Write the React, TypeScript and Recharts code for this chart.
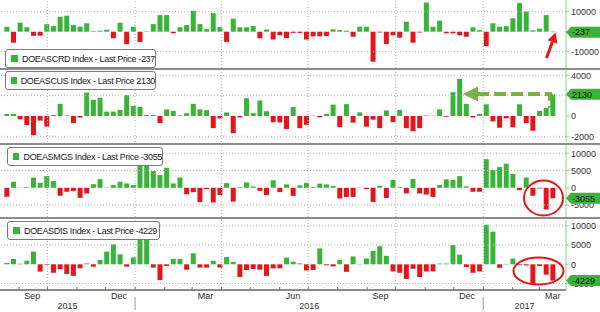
import React from "react";
import { BarChart, Bar, XAxis, YAxis, Cell, ReferenceLine } from "recharts";

const GREEN = "#38b538";
const RED = "#e3161c";
const GRID = "#b4b4b4";
const AXIS_GREEN = "#8fd18f";
const SEP = "#8c8c8c";
const FONT = "'Liberation Sans', Arial, sans-serif";

// weekly DOE inventory changes (thousand barrels), one bar per week
const crude = [
  2500, -5500, 4500, 2200, -2000, -2000, 3800, 2800, 7500, 8000,
  3300, 2500, 4200, 300, 500, 1000, -3300, 4500, -6200, 2500,
  -5200, 200, 3800, 8300, 8300, -800, 2200, 3300, 10500, 3800,
  1300, 9300, 2300, -5100, 6500, 2200, 2200, 2800, -3300, 1100,
  -3900, -1800, -3200, -600, -600, -3900, -2300, -2300, -2200, 1200,
  800, 500, -2500, 2500, 2500, -15000, -400, -6200, -1800, -3000,
  5000, -5500, -400, 14600, 2500, 5500, -800, -800, -1800, -2500,
  2200, 800, -7200, 4200, 2500, 2800, 6700, 14300, 10100, 700,
  1500, 8300, -237,
];
const cushing = [
  200, 200, -330, -900, -1900, -450, -1050, 100, 1200, 50,
  -700, -150, 2300, 1600, 1800, 430, 430, 600, 2050, 1000,
  900, 100, 100, -700, 650, 500, 50, 280, 1200, 650,
  570, -1200, -240, 350, -1700, -140, 1750, 280, 1530, 470,
  -610, -630, -1280, 880, -1200, -870, 30, -130, 200, 1120,
  -1100, 1170, -650, 360, -1050, -360, -1200, 550, -600, 600,
  -1200, -1500, -1200, 50, 30, 650, -80, 2350, 3650, 1200,
  -150, 200, 1150, -530, -1150, -230, -1100, 1150, -700, -1450,
  500, 800, 2130,
];
const gasoline = [
  -2600, 1750, 100, 200, 3000, 1450, 3400, 1950, -2300, -1150,
  -900, -2900, -1650, 1050, 2500, 100, 800, 1750, 1250, 800,
  8000, 7600, 4850, 3700, 5800, 1250, 3000, -1850, -1250, -4150,
  -400, -4250, -2100, 1350, -4000, 200, 1550, 400, -880, -2100,
  2180, -1250, 980, -2350, 700, 1450, 200, 1200, 980, 550,
  -3100, -2650, -2650, 100, -400, -4100, 600, -2950, 2250, 200,
  -1650, 2550, -1650, -1950, -2650, 800, 2450, 2250, 3400, 400,
  -1150, -1150, 8300, 5200, 6000, 7000, 4000, -700, 3000, -2300,
  -200, -6300, -3055,
];
const distillates = [
  350, 1400, 150, 950, 3300, -1900, -150, -2200, -1300, -2500,
  -3000, -1050, 250, -600, 1150, 3300, 5200, 2600, -600, 1800,
  9000, 8000, -850, -4100, -450, 1400, 1400, -1400, 2880, -860,
  -860, 900, -860, 1900, 650, -3300, -1480, -1200, -1400, -3000,
  -1050, -1050, 1750, 700, 250, -1600, -1450, 4130, -250, -550,
  1150, -1950, 2050, 100, 1530, 3480, 4700, 2200, -1850, -2200,
  -3800, -1150, -3300, -1850, -1850, 200, 200, 5000, 2500, -700,
  -2200, -1850, 10300, 8500, -900, 100, 1500, -200, -300, -5100,
  -450, -2700, -4229,
];

const names = ["DOEASCRD", "DOEASCUS", "DOEASMGS", "DOEASDIS"];
const lastPrices = ["-237", "2130", "-3055", "-4229"];

// x axis in days from 1 Jan 2016
const dayOf = (y: number, m: number, d: number) =>
  Math.round((Date.UTC(y, m - 1, d) - Date.UTC(2016, 0, 1)) / 86400000);
const FIRST_WEEK = dayOf(2015, 8, 19);
const weeks = crude.map((_, i) => FIRST_WEEK + i * 7);
const X_DOMAIN = [dayOf(2015, 8, 12), dayOf(2017, 3, 29)];

const monthLabels = ["Sep", "Dec", "Mar", "Jun", "Sep", "Dec", "Mar"];
const monthLabelDays = [
  dayOf(2015, 9, 15), dayOf(2015, 12, 15), dayOf(2016, 3, 15), dayOf(2016, 6, 15),
  dayOf(2016, 9, 15), dayOf(2016, 12, 15), dayOf(2017, 3, 15),
];
const monthStarts = [
  [2015, 9], [2015, 10], [2015, 11], [2015, 12], [2016, 1], [2016, 2], [2016, 3],
  [2016, 4], [2016, 5], [2016, 6], [2016, 7], [2016, 8], [2016, 9], [2016, 10],
  [2016, 11], [2016, 12], [2017, 1], [2017, 2], [2017, 3],
].map(([y, m]) => dayOf(y, m, 1));
const quarterDays = [dayOf(2015, 10, 1), dayOf(2016, 1, 1), dayOf(2016, 4, 1), dayOf(2016, 7, 1), dayOf(2016, 10, 1), dayOf(2017, 1, 1)];
const yearLabels = ["2015", "2016", "2017"];
const yearBreaks = [dayOf(2016, 1, 1), dayOf(2017, 1, 1)];
const yearMids = [
  (X_DOMAIN[0] + yearBreaks[0]) / 2,
  (yearBreaks[0] + yearBreaks[1]) / 2,
  (yearBreaks[1] + X_DOMAIN[1]) / 2,
];

const panels = [
  { values: crude, domain: [-18150, 15850], ticks: [-10000, 0, 10000], grid: [-10000, 10000], top: 0, plotHeight: 68, legend: { left: 5, top: 49, width: 144 } },
  { values: cushing, domain: [-2560, 4530], ticks: [-2000, 0, 2000, 4000], grid: [-2000, 2000, 4000], top: 70, plotHeight: 72, legend: { left: 5, top: 71, width: 144 } },
  { values: gasoline, domain: [-8470, 12410], ticks: [-5000, 0, 5000, 10000], grid: [-5000, 5000, 10000], top: 145, plotHeight: 72, legend: { left: 7, top: 147, width: 149 } },
  { values: distillates, domain: [-6680, 11520], ticks: [-5000, 0, 5000, 10000], grid: [-5000, 5000, 10000], top: 220, plotHeight: 70, legend: { left: 7, top: 221, width: 146 } },
];

function MonthTick(props: any) {
  const { x, y, payload } = props;
  const k = monthLabelDays.indexOf(payload.value);
  if (k >= 0) {
    return (
      <text x={x} y={y + 9} textAnchor="middle" fontSize={9} fill="#333" fontFamily={FONT}>
        {monthLabels[k]}
      </text>
    );
  }
  return <line x1={x} x2={x} y1={y - 3} y2={y + 1} stroke="#777" />;
}

function YearTick(props: any) {
  const { x, y, payload } = props;
  const k = yearMids.indexOf(payload.value);
  if (k >= 0) {
    return (
      <text x={x} y={y + 8.5} textAnchor="middle" fontSize={9} fill="#333" fontFamily={FONT}>
        {yearLabels[k]}
      </text>
    );
  }
  return <line x1={x} x2={x} y1={y - 3} y2={y + 10} stroke="#999" />;
}

// green "last price" tag on the right axis, drawn above the tick labels
function PriceTag({ x0, y, text }: { x0: number; y: number; text: string }) {
  return (
    <g>
      <polygon
        points={`${x0},${y} ${x0 + 5},${y - 5.5} 600,${y - 5.5} 600,${y + 5.5} ${x0 + 5},${y + 5.5}`}
        fill={GREEN}
      />
      <text x={x0 + 6} y={y + 3.2} fontSize={9} fill="#111" fontFamily={FONT}>
        {text}
      </text>
    </g>
  );
}

function Panel({ values, domain, ticks, grid, top, plotHeight, axis }: any) {
  const rows = values.map((v: number, i: number) => ({ day: weeks[i], v }));
  const h = plotHeight + (axis ? 22 : 0);
  return (
    <div style={{ position: "absolute", left: 0, top }}>
      <BarChart width={600} height={h} data={rows} margin={{ top: 0, right: 0, bottom: 0, left: 0 }}>
        <XAxis
          type="number"
          dataKey="day"
          domain={X_DOMAIN}
          allowDataOverflow
          hide={!axis}
          ticks={[...monthStarts, ...monthLabelDays]}
          interval={0}
          height={10}
          tickSize={0}
          tickMargin={0}
          tickLine={false}
          axisLine={{ stroke: SEP, strokeWidth: 2 }}
          tick={<MonthTick />}
        />
        {axis && (
          <XAxis
            xAxisId="yr"
            type="number"
            dataKey="day"
            domain={X_DOMAIN}
            allowDataOverflow
            ticks={[...yearMids, ...yearBreaks]}
            interval={0}
            height={12}
            tickSize={0}
            tickMargin={0}
            tickLine={false}
            axisLine={false}
            tick={<YearTick />}
          />
        )}
        <YAxis
          orientation="right"
          width={34}
          type="number"
          domain={domain}
          allowDataOverflow
          ticks={ticks}
          interval={0}
          tickSize={3}
          tickMargin={2}
          axisLine={{ stroke: AXIS_GREEN }}
          tickLine={{ stroke: AXIS_GREEN }}
          tick={{ fontSize: 9, fill: "#333", fontFamily: FONT }}
        />
        {grid.map((g: number) => (
          <ReferenceLine key={"g" + g} y={g} stroke={GRID} strokeDasharray="1 2" />
        ))}
        {quarterDays.map((q) => (
          <ReferenceLine key={"q" + q} x={q} stroke={GRID} strokeDasharray="1 2" />
        ))}
        <Bar dataKey="v" barSize={5} isAnimationActive={false}>
          {rows.map((r: any, i: number) => (
            <Cell key={i} fill={r.v >= 0 ? GREEN : RED} />
          ))}
        </Bar>
      </BarChart>
    </div>
  );
}

function LegendBox({ left, top, width, text }: { left: number; top: number; width: number; text: string }) {
  return (
    <div
      style={{
        position: "absolute", left, top, width, height: 17,
        border: "1px solid #7a7a7a", borderRadius: 3, background: "#fff",
        display: "flex", alignItems: "center", paddingLeft: 5, boxSizing: "content-box",
        fontFamily: FONT, fontSize: 9, letterSpacing: -0.35, color: "#222", whiteSpace: "nowrap",
      }}
    >
      <div style={{ width: 7, height: 7, background: GREEN, marginRight: 4 }} />
      {text}
    </div>
  );
}

export default function App() {
  const plotRight = 600 - 34;
  return (
    <div style={{ position: "absolute", left: 0, top: 0, width: 600, height: 312, background: "#fff", overflow: "hidden" }}>
      {panels.map((p, k) => (
        <Panel key={k} {...p} axis={k === panels.length - 1} />
      ))}

      {[68, 142.7, 217.3].map((t) => (
        <div key={t} style={{ position: "absolute", left: 0, top: t, width: 600, height: 2, background: SEP }} />
      ))}

      {panels.map((p, k) => (
        <LegendBox key={k} {...p.legend} text={`${names[k]} Index - Last Price ${lastPrices[k]}`} />
      ))}

      <svg width={600} height={312} style={{ position: "absolute", left: 0, top: 0, pointerEvents: "none" }}>
        {panels.map((p, k) => {
          const [lo, hi] = p.domain;
          const y = p.top + ((hi - Number(lastPrices[k])) / (hi - lo)) * p.plotHeight;
          return <PriceTag key={k} x0={plotRight} y={y} text={lastPrices[k]} />;
        })}
        <line x1={546.5} y1={58} x2={552.3} y2={42} stroke={RED} strokeWidth={3} />
        <polygon points="555.5,32.5 557.4,43.8 547.6,40.2" fill={RED} />
        <path d="M477,94 H550 V108" fill="none" stroke="#6ea832" strokeOpacity={0.9} strokeWidth={4} strokeDasharray="12 5" />
        <polygon points="463,94 478,86.5 478,101.5" fill="#6ea832" fillOpacity={0.9} />
        <ellipse cx={543.5} cy={198} rx={19.5} ry={17.5} fill="none" stroke={RED} strokeWidth={2} />
        <ellipse cx={538.5} cy={271} rx={25} ry={13.5} fill="none" stroke={RED} strokeWidth={2} />
      </svg>
    </div>
  );
}
